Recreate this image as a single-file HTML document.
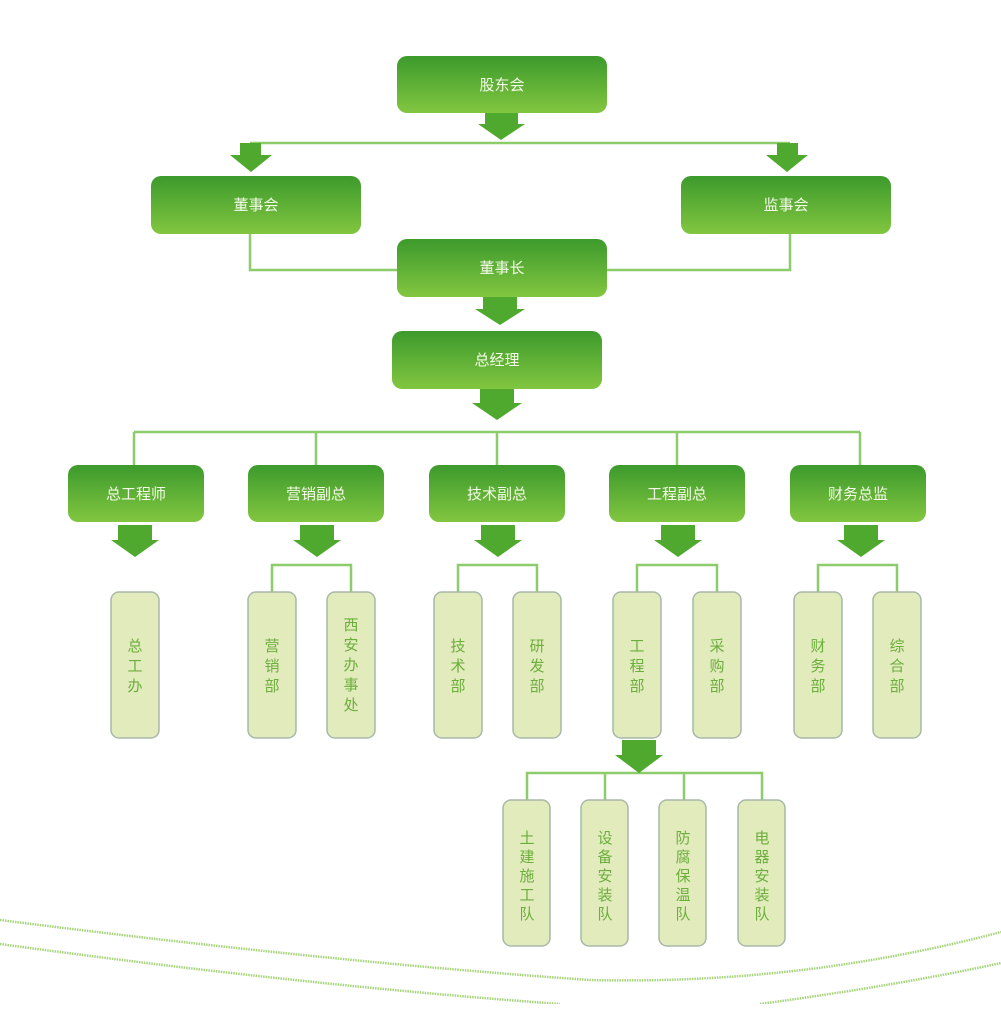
<!DOCTYPE html>
<html><head><meta charset="utf-8"><style>
html,body{margin:0;padding:0;background:#fff;}
svg text{font-family:"Liberation Sans","Noto Sans CJK SC",sans-serif;}
.bt{fill:#f4fbe8;font-size:15px;text-anchor:middle;}
.dt{fill:#6cae3c;font-size:15px;text-anchor:middle;}
</style></head><body>
<svg width="1001" height="1004" viewBox="0 0 1001 1004" xmlns="http://www.w3.org/2000/svg">
<defs>
<linearGradient id="g" x1="0" y1="0" x2="0" y2="1">
<stop offset="0" stop-color="#3c9a2c"/><stop offset="1" stop-color="#82c640"/></linearGradient>
</defs>
<g stroke="#8ccc6a" stroke-width="2.5" fill="none">
<path d="M250 143 H790"/>
<path d="M250 234 V270 H397 M790 234 V270 H607"/>
<path d="M134 432 H860 M134 432 V465 M316 432 V465 M497 432 V465 M677 432 V465 M860 432 V465"/>
<path d="M272 592 V565 H351 V592"/>
<path d="M458 592 V565 H537 V592"/>
<path d="M637 592 V565 H717 V592"/>
<path d="M818 592 V565 H897 V592"/>
<path d="M527 800 V773 H762 V800 M605 773 V800 M684 773 V800"/>
</g>
<g fill="#4fa92e">
<path d="M485 113 H518 V124 H525 L501 140 L478 124 H485Z"/>
<path d="M240 143 H261 V155 H272 L251 172 L230 155 H240Z"/>
<path d="M777 143 H798 V155 H808 L787 172 L766 155 H777Z"/>
<path d="M483 297 H517 V309 H525 L500 325 L475 309 H483Z"/>
<path d="M480 389 H514 V403 H522 L497 420 L472 403 H480Z"/>
<path d="M118 525 H152 V540 H159 L135 557 L111 540 H118Z"/>
<path d="M300 525 H334 V540 H341 L317 557 L293 540 H300Z"/>
<path d="M481 525 H515 V540 H522 L498 557 L474 540 H481Z"/>
<path d="M661 525 H695 V540 H702 L678 557 L654 540 H661Z"/>
<path d="M844 525 H878 V540 H885 L861 557 L837 540 H844Z"/>
<path d="M622 740 H656 V755 H663 L639 773 L615 755 H622Z"/>
</g>
<g fill="url(#g)">
<rect x="397" y="56" width="210" height="57" rx="10"/>
<rect x="151" y="176" width="210" height="58" rx="10"/>
<rect x="681" y="176" width="210" height="58" rx="10"/>
<rect x="397" y="239" width="210" height="58" rx="10"/>
<rect x="392" y="331" width="210" height="58" rx="10"/>
<rect x="68" y="465" width="136" height="57" rx="10"/>
<rect x="248" y="465" width="136" height="57" rx="10"/>
<rect x="429" y="465" width="136" height="57" rx="10"/>
<rect x="609" y="465" width="136" height="57" rx="10"/>
<rect x="790" y="465" width="136" height="57" rx="10"/>
</g>
<text class="bt" x="502" y="90">股东会</text>
<text class="bt" x="256" y="210">董事会</text>
<text class="bt" x="786" y="210">监事会</text>
<text class="bt" x="502" y="273">董事长</text>
<text class="bt" x="497" y="365">总经理</text>
<text class="bt" x="136" y="499">总工程师</text>
<text class="bt" x="316" y="499">营销副总</text>
<text class="bt" x="497" y="499">技术副总</text>
<text class="bt" x="677" y="499">工程副总</text>
<text class="bt" x="858" y="499">财务总监</text>
<g fill="#e1ebbc" stroke="#a9b8a8" stroke-width="1.5">
<rect x="111" y="592" width="48" height="146" rx="8"/>
<rect x="248" y="592" width="48" height="146" rx="8"/>
<rect x="327" y="592" width="48" height="146" rx="8"/>
<rect x="434" y="592" width="48" height="146" rx="8"/>
<rect x="513" y="592" width="48" height="146" rx="8"/>
<rect x="613" y="592" width="48" height="146" rx="8"/>
<rect x="693" y="592" width="48" height="146" rx="8"/>
<rect x="794" y="592" width="48" height="146" rx="8"/>
<rect x="873" y="592" width="48" height="146" rx="8"/>
<rect x="503" y="800" width="47" height="146" rx="8"/>
<rect x="581" y="800" width="47" height="146" rx="8"/>
<rect x="659" y="800" width="47" height="146" rx="8"/>
<rect x="738" y="800" width="47" height="146" rx="8"/>
</g>
<g class="dt">
<text x="135" y="651" class="dt">总</text><text x="135" y="671" class="dt">工</text><text x="135" y="691" class="dt">办</text>
<text x="272" y="651" class="dt">营</text><text x="272" y="671" class="dt">销</text><text x="272" y="691" class="dt">部</text>
<text x="351" y="630" class="dt">西</text><text x="351" y="650" class="dt">安</text><text x="351" y="670" class="dt">办</text><text x="351" y="690" class="dt">事</text><text x="351" y="710" class="dt">处</text>
<text x="458" y="651" class="dt">技</text><text x="458" y="671" class="dt">术</text><text x="458" y="691" class="dt">部</text>
<text x="537" y="651" class="dt">研</text><text x="537" y="671" class="dt">发</text><text x="537" y="691" class="dt">部</text>
<text x="637" y="651" class="dt">工</text><text x="637" y="671" class="dt">程</text><text x="637" y="691" class="dt">部</text>
<text x="717" y="651" class="dt">采</text><text x="717" y="671" class="dt">购</text><text x="717" y="691" class="dt">部</text>
<text x="818" y="651" class="dt">财</text><text x="818" y="671" class="dt">务</text><text x="818" y="691" class="dt">部</text>
<text x="897" y="651" class="dt">综</text><text x="897" y="671" class="dt">合</text><text x="897" y="691" class="dt">部</text>
<text x="527" y="843" class="dt">土</text><text x="527" y="862" class="dt">建</text><text x="527" y="881" class="dt">施</text><text x="527" y="900" class="dt">工</text><text x="527" y="919" class="dt">队</text>
<text x="605" y="843" class="dt">设</text><text x="605" y="862" class="dt">备</text><text x="605" y="881" class="dt">安</text><text x="605" y="900" class="dt">装</text><text x="605" y="919" class="dt">队</text>
<text x="683" y="843" class="dt">防</text><text x="683" y="862" class="dt">腐</text><text x="683" y="881" class="dt">保</text><text x="683" y="900" class="dt">温</text><text x="683" y="919" class="dt">队</text>
<text x="762" y="843" class="dt">电</text><text x="762" y="862" class="dt">器</text><text x="762" y="881" class="dt">安</text><text x="762" y="900" class="dt">装</text><text x="762" y="919" class="dt">队</text>
</g>
<g stroke="#a6d47a" stroke-width="2.5" fill="none" stroke-dasharray="1.5 1">
<path d="M0 920 Q330 962 590 980 Q800 985 1001 932"/>
<path d="M0 944 Q300 985 560 1004"/>
<path d="M760 1004 Q900 985 1001 963"/>
</g>
</svg>
</body></html>
